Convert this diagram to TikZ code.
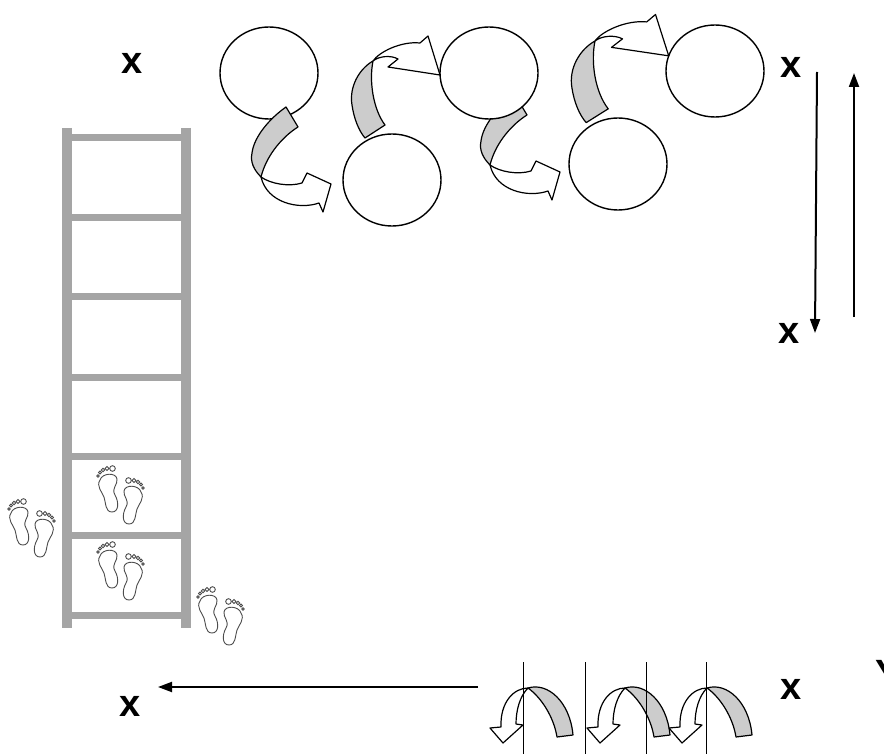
\documentclass[tikz,border=0pt]{standalone}
\usepackage{fontspec}
\setmainfont{Liberation Sans}
\usetikzlibrary{arrows.meta,shapes.geometric}

\definecolor{ladder}{RGB}{165,165,165}
\definecolor{bandgray}{RGB}{204,204,204}

\tikzset{
  % twisted band that drops down and swings to the right
  curldown/.pic={
    \path[shade] (0,0) .. controls (-7,-7) and (-11,-15) .. (-9,-24)
      .. controls (-7,-40) and (8,-58) .. (25,-70) -- (37,-50)
      .. controls (24,-42) and (6,-24) .. (0,0) -- cycle;
    \path[blank] (0,0) .. controls (10,7) and (28,10) .. (41,6) -- (46,-4)
      -- (70,7) -- (62,35) -- (58,26) .. controls (38,33) and (6,26) .. (0,0) -- cycle;
  },
  % twisted band that climbs up and points at the next bubble
  curlup/.pic={
    \path[shade] (0,0) .. controls (-14,8) and (-24,26) .. (-21,44)
      .. controls (-19,58) and (-14,70) .. (-8,77) -- (12,64)
      .. controls (0,48) and (-4,20) .. (0,0) -- cycle;
    \path[blank] (0,0) .. controls (6,-9) and (28,-20) .. (47,-18) -- (55,-25)
      -- (67,14) -- (15,6) -- (25,-2) .. controls (18,-6) and (6,-5) .. (0,0) -- cycle;
  },
  % band turning over from right to left
  flipover/.pic={
    \path[shade] (0,0) .. controls (20,-6) and (42,14) .. (45,47) -- (29,49)
      .. controls (26,30) and (14,10) .. (0,0) -- cycle;
    \path[blank] (0,0) .. controls (-14,0) and (-28,14) .. (-27,39) -- (-38,40)
      -- (-25,55) -- (-5,37) -- (-12,36) .. controls (-12,22) and (-8,8) .. (0,0) -- cycle;
  },
  foot/.pic={
    \draw[sole] (-9,-10) .. controls (-7,-17) and (7,-18) .. (8,-11)
      .. controls (9,-5) and (2,-2) .. (6,5) .. controls (10,12) and (10,22) .. (3,22)
      .. controls (-4,22) and (-3,13) .. (-5,7) .. controls (-7,2) and (-13,-4) .. (-9,-10) -- cycle;
    \foreach \tx/\ty/\tr in {-11/-14/1.3, -9/-17.5/1.5, -6/-20/1.7, -2/-21.5/1.9, 3.5/-21.5/2.8}
      \draw[sole] (\tx,\ty) circle (\tr);
  },
  feet/.pic={
    \pic at (-11,-4) {foot};
    \pic[xscale=-1] at (12,8) {foot};
  }
}

\begin{document}
\begin{tikzpicture}[x=1pt,y=-1pt,
  bubble/.style={ellipse,draw,line width=1.4pt,fill=white,minimum width=98pt,minimum height=92pt},
  letter/.style={inner sep=0pt,font=\fontsize{38}{42}\selectfont\bfseries},
  band/.style={draw,line width=1.2pt,line join=round},
  shade/.style={band,fill=bandgray},
  blank/.style={band,fill=white},
  rail/.style={draw=ladder,line width=10pt},
  rung/.style={draw=ladder,line width=7pt},
  sole/.style={draw=black!70,line width=0.9pt},
  pointer/.style={line width=2pt,-{Triangle[length=14pt,width=10pt]}},
  divider/.style={line width=1.3pt}
]
\fill[white] (0,0) rectangle (884,754);
\useasboundingbox (0,0) rectangle (884,754);

% Ladder
\draw[rail] (67,128) -- (67,628) (186,128) -- (186,628);
\foreach \y in {138,218,297,377,456,535,615}
  \draw[rung] (67,\y) -- (186,\y);

% Footprints
\pic at (31,527) {feet};
\pic at (120,494) {feet};
\pic at (120,570) {feet};
\pic at (220,615) {feet};

% Bubbles and the bands between them
\node[bubble] (b1) at (269,73) {};
\node[bubble] (b2) at (392,180) {};
\node[bubble] (b4) at (618,164) {};
\node[bubble] (b5) at (715,71) {};

\pic at (261,177) {curldown};
\pic at (373,61) {curlup};
\pic at (490,165) {curldown};
\pic[xscale=1.1,yscale=1.06] at (595,41) {curlup};

\node[bubble] (b3) at (489,73) {};

% Letters
\node[letter] (xtl) at (132,63) {x};
\node[letter] (xtr) at (791,67) {x};
\node[letter] (xmr) at (789,333) {x};
\node[letter] (xbl) at (130,706) {x};
\node[letter] (xbr) at (791,689) {x};
\node[letter,anchor=base west] (yend) at (875,686) {Y};

% Up and down arrows
\coordinate (dtop) at (817,72);
\coordinate (dbot) at (815,333);
\coordinate (ubot) at (854,317);
\coordinate (utop) at (854,73);
\draw[pointer] (dtop) -- (dbot);
\draw[pointer] (ubot) -- (utop);

% Back arrow along the bottom
\coordinate (tail) at (478,687);
\coordinate (head) at (158,687);
\draw[pointer] (tail) -- (head);

% Turnover bands and dividers
\pic at (528,688) {flipover};
\pic at (625,688) {flipover};
\pic at (707,688) {flipover};
\foreach \x in {523.5,585.5,646.5,706.5}
  \draw[divider] (\x,662) -- (\x,754);
\end{tikzpicture}
\end{document}
